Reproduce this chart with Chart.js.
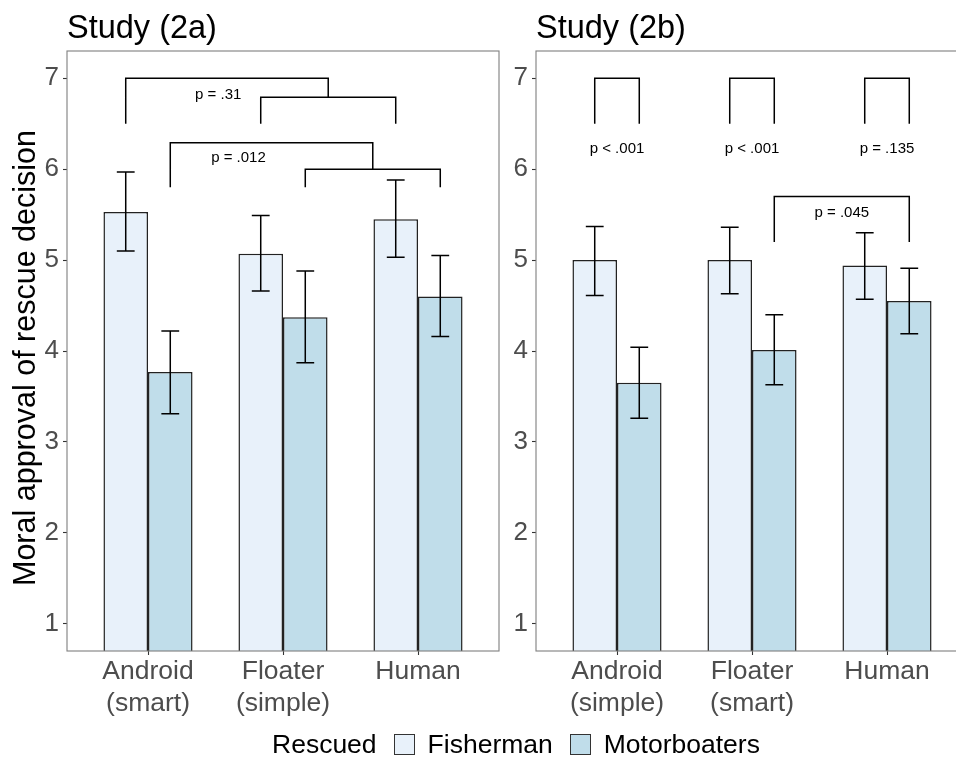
<!DOCTYPE html>
<html>
<head>
<meta charset="utf-8">
<script src="https://cdn.jsdelivr.net/npm/chart.js@4.4.0/dist/chart.umd.min.js"></script>
<style>
  html, body { margin: 0; padding: 0; background: #fff; overflow: hidden; }
  #wrap { position: relative; width: 956px; height: 765px; overflow: hidden; font-family: "Liberation Sans", Arial, sans-serif; }
  canvas { position: absolute; top: 0; }
  #chartA { left: 0; }
  #chartB { left: 469px; }
  #legend { position: absolute; left: 272px; top: 729px; display: flex; align-items: center; font-size: 26.5px; color: #000; white-space: nowrap; }
  #legend .key { width: 21px; height: 21px; border: 1px solid #333; box-sizing: border-box; margin: 0 13px 0 17px; }
</style>
</head>
<body>
<div id="wrap">
  <canvas id="chartA" width="505" height="730"></canvas>
  <canvas id="chartB" width="520" height="730"></canvas>
  <div id="legend">
    <span>Rescued</span>
    <span class="key" style="background:#E8F1FA"></span><span>Fisherman</span>
    <span class="key" style="background:#C0DDEA"></span><span>Motorboaters</span>
  </div>
</div>
<script>
// ===== Data =====
const seriesNames = ["Fisherman", "Motorboaters"];
const fills = ["#E8F1FA", "#C0DDEA"];
const yTicks = [1, 2, 3, 4, 5, 6, 7];
const yTitle = "Moral approval of rescue decision";

// Study 2a
const groupsA = [["Android", "(smart)"], ["Floater", "(simple)"], ["Human"]];
const fisherA = [5.53, 5.07, 5.45];
const fisherLoA = [5.10, 4.66, 5.03];
const fisherHiA = [5.97, 5.49, 5.88];
const boatA = [3.77, 4.37, 4.60];
const boatLoA = [3.31, 3.87, 4.16];
const boatHiA = [4.22, 4.88, 5.05];

// Study 2b
const groupsB = [["Android", "(simple)"], ["Floater", "(smart)"], ["Human"]];
const fisherB = [5.00, 5.00, 4.94];
const fisherLoB = [4.61, 4.63, 4.57];
const fisherHiB = [5.37, 5.36, 5.30];
const boatB = [3.65, 4.01, 4.55];
const boatLoB = [3.26, 3.63, 4.19];
const boatHiB = [4.04, 4.40, 4.91];

// brackets: an end is [group, series] (a bar) or {b: i} (middle of bracket i)
const bracketsA = [
  { left: [1, 0], right: [2, 0], top: 6.79, foot: 6.5 },
  { left: [0, 0], right: { b: 0 }, top: 7.0, foot: 6.5 },
  { left: [1, 1], right: [2, 1], top: 6.0, foot: 5.8 },
  { left: [0, 1], right: { b: 2 }, top: 6.29, foot: 5.8 }
];
const pLabelsA = [
  { text: "p = .31", x: 1.52, y: 6.82 },
  { text: "p = .012", x: 1.67, y: 6.13 }
];
const bracketsB = [
  { left: [0, 0], right: [0, 1], top: 7.0, foot: 6.5 },
  { left: [1, 0], right: [1, 1], top: 7.0, foot: 6.5 },
  { left: [2, 0], right: [2, 1], top: 7.0, foot: 6.5 },
  { left: [1, 1], right: [2, 1], top: 5.7, foot: 5.2 }
];
const pLabelsB = [
  { text: "p < .001", x: 1, y: 6.22 },
  { text: "p < .001", x: 2, y: 6.22 },
  { text: "p = .135", x: 3, y: 6.22 },
  { text: "p = .045", x: 2.665, y: 5.52 }
];

const FONT = "'Liberation Sans', Arial, sans-serif";

// ===== Overlay: frame, error bars, brackets, titles =====
function overlay(title, axisTitle, lows, highs, brackets, labels) {
  return {
    id: "overlay",
    afterDatasetsDraw(chart) {
      const { ctx, chartArea: a, scales: { x, y } } = chart;
      ctx.save();

      // panel border
      ctx.strokeStyle = "#7f7f7f";
      ctx.lineWidth = 1.1;
      ctx.strokeRect(a.left, a.top, a.right - a.left, a.bottom - a.top);

      // error bars
      ctx.strokeStyle = "#000";
      ctx.lineWidth = 1.5;
      lows.forEach((lo, s) => {
        chart.getDatasetMeta(s).data.forEach((bar, i) => {
          const cx = bar.x, half = bar.width * 0.2;
          const y1 = y.getPixelForValue(lo[i]);
          const y2 = y.getPixelForValue(highs[s][i]);
          ctx.beginPath();
          ctx.moveTo(cx, y1); ctx.lineTo(cx, y2);
          ctx.moveTo(cx - half, y1); ctx.lineTo(cx + half, y1);
          ctx.moveTo(cx - half, y2); ctx.lineTo(cx + half, y2);
          ctx.stroke();
        });
      });

      // brackets
      const endX = e => Array.isArray(e)
        ? chart.getDatasetMeta(e[1]).data[e[0]].x
        : (endX(brackets[e.b].left) + endX(brackets[e.b].right)) / 2;
      const endFoot = (e, br) => Array.isArray(e) ? br.foot : brackets[e.b].top;
      brackets.forEach(br => {
        const xl = endX(br.left), xr = endX(br.right);
        ctx.beginPath();
        ctx.moveTo(xl, y.getPixelForValue(endFoot(br.left, br)));
        ctx.lineTo(xl, y.getPixelForValue(br.top));
        ctx.lineTo(xr, y.getPixelForValue(br.top));
        ctx.lineTo(xr, y.getPixelForValue(endFoot(br.right, br)));
        ctx.stroke();
      });

      // p labels
      ctx.fillStyle = "#000";
      ctx.font = "15px " + FONT;
      ctx.textAlign = "center";
      ctx.textBaseline = "middle";
      labels.forEach(l => ctx.fillText(l.text, x.getPixelForValue(l.x), y.getPixelForValue(l.y)));

      // y axis title (left panel only)
      if (axisTitle) {
        ctx.save();
        ctx.translate(27, (a.top + a.bottom) / 2 + 7);
        ctx.rotate(-Math.PI / 2);
        ctx.font = "30.5px " + FONT;
        ctx.fillText(axisTitle, 0, 0);
        ctx.restore();
      }

      // panel title
      ctx.font = "32.5px " + FONT;
      ctx.textAlign = "left";
      ctx.textBaseline = "alphabetic";
      ctx.fillText(title, a.left, 38);
      ctx.restore();
    }
  };
}

function makeChart(id, title, groups, means, lows, highs, brackets, labels, padRight, axisTitle) {
  return new Chart(document.getElementById(id), {
    type: "bar",
    data: {
      datasets: seriesNames.map((name, s) => ({
        label: name,
        data: means[s].map((v, i) => ({ x: i + 1, y: v })),
        backgroundColor: fills[s],
        borderColor: "#222",
        borderWidth: 1.5,
        categoryPercentage: 0.66,
        barPercentage: 1,
        clip: 0
      }))
    },
    options: {
      responsive: false,
      animation: false,
      layout: { padding: { top: 51, right: padRight, left: 0, bottom: 0 } },
      plugins: { legend: { display: false }, tooltip: { enabled: false } },
      scales: {
        x: {
          type: "linear",
          offset: false,
          min: 0.4,
          max: 3.6,
          afterBuildTicks: ax => { ax.ticks = groups.map((g, i) => ({ value: i + 1 })); },
          afterFit: ax => { ax.height = 79; },
          ticks: {
            callback: v => groups[v - 1],
            color: "#4d4d4d",
            font: { size: 26.5, family: FONT },
            padding: 1,
            maxRotation: 0,
            autoSkip: false
          },
          grid: { offset: false, drawOnChartArea: false, tickLength: 4, tickColor: "#333", tickWidth: 1.1 },
          border: { display: false }
        },
        y: {
          min: 0.7,
          max: 7.3,
          afterBuildTicks: ax => { ax.ticks = yTicks.map(v => ({ value: v })); },
          afterFit: ax => { ax.width = 67; },
          ticks: { color: "#4d4d4d", font: { size: 26, family: FONT }, padding: 4 },
          grid: { drawOnChartArea: false, tickLength: 4, tickColor: "#333", tickWidth: 1.1 },
          border: { display: false }
        }
      }
    },
    plugins: [overlay(title, axisTitle, lows, highs, brackets, labels)]
  });
}

makeChart("chartA", "Study (2a)", groupsA, [fisherA, boatA],
  [fisherLoA, boatLoA], [fisherHiA, boatHiA], bracketsA, pLabelsA, 6, yTitle);
makeChart("chartB", "Study (2b)", groupsB, [fisherB, boatB],
  [fisherLoB, boatLoB], [fisherHiB, boatHiB], bracketsB, pLabelsB, 21, null);
</script>
</body>
</html>
